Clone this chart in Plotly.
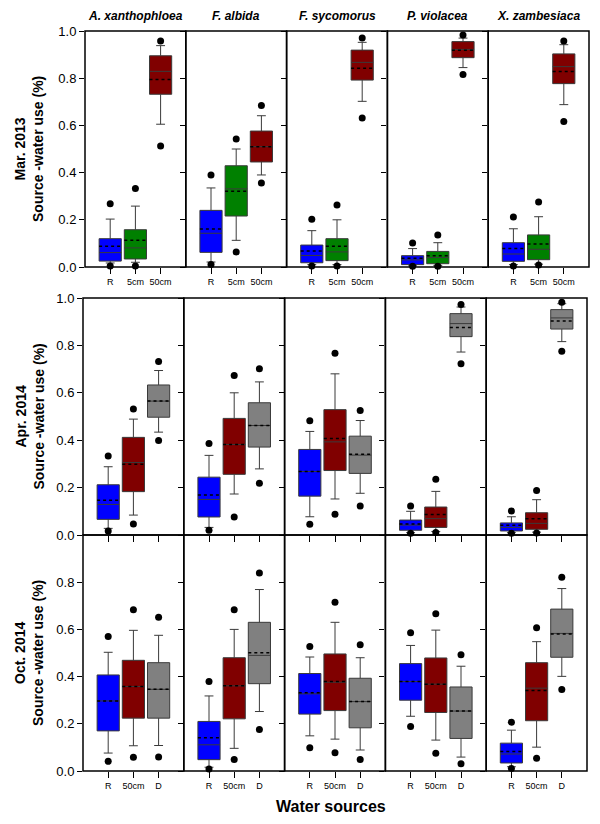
import plotly.graph_objects as go

# ---------------- data ----------------
SPECIES = ["A. xanthophloea", "F. albida", "F. sycomorus", "P. violacea", "X. zambesiaca"]
PERIODS = ["Mar. 2013", "Apr. 2014", "Oct. 2014"]
SOURCES = [["R", "5cm", "50cm"], ["R", "50cm", "D"], ["R", "50cm", "D"]]
SHOW_XLABELS = [True, False, True]
Y_TICKS = [[0, 0.2, 0.4, 0.6, 0.8, 1.0], [0, 0.2, 0.4, 0.6, 0.8, 1.0], [0, 0.2, 0.4, 0.6, 0.8]]

BLUE, GREEN, DRED, GRAY = "#0000FF", "#008000", "#800000", "#808080"
COLORS = [[BLUE, GREEN, DRED], [BLUE, DRED, GRAY], [BLUE, DRED, GRAY]]

# Mar. 2013  (rows = species, cols = sources)
mar13_q1 = [[0.025, 0.034, 0.732], [0.062, 0.216, 0.445], [0.018, 0.027, 0.792], [0.010, 0.014, 0.887], [0.024, 0.031, 0.777]]
mar13_med = [[0.061, 0.081, 0.829], [0.143, 0.331, 0.510], [0.049, 0.064, 0.867], [0.030, 0.040, 0.922], [0.055, 0.075, 0.849]]
mar13_q3 = [[0.120, 0.158, 0.895], [0.240, 0.429, 0.576], [0.093, 0.120, 0.919], [0.048, 0.066, 0.955], [0.103, 0.136, 0.903]]
mar13_lo = [[0.017, 0.020, 0.605], [0.021, 0.113, 0.390], [0.010, 0.010, 0.702], [0.005, 0.007, 0.845], [0.010, 0.012, 0.688]]
mar13_hi = [[0.203, 0.258, 0.938], [0.335, 0.500, 0.641], [0.154, 0.200, 0.952], [0.078, 0.103, 0.970], [0.162, 0.213, 0.942]]
mar13_mean = [[0.088, 0.113, 0.795], [0.161, 0.321, 0.510], [0.068, 0.088, 0.842], [0.037, 0.048, 0.918], [0.078, 0.097, 0.828]]
mar13_out_lo = [[0.004, 0.004, 0.513], [0.011, 0.064, 0.356], [0.004, 0.004, 0.631], [0.003, 0.003, 0.816], [0.004, 0.008, 0.617]]
mar13_out_hi = [[0.268, 0.333, 0.958], [0.390, 0.542, 0.684], [0.202, 0.263, 0.970], [0.102, 0.136, 0.983], [0.212, 0.275, 0.958]]

# Apr. 2014
apr14_q1 = [[0.066, 0.183, 0.497], [0.076, 0.256, 0.371], [0.164, 0.272, 0.260], [0.020, 0.032, 0.837], [0.017, 0.024, 0.869]]
apr14_med = [[0.129, 0.306, 0.565], [0.150, 0.382, 0.462], [0.268, 0.393, 0.337], [0.042, 0.069, 0.892], [0.032, 0.049, 0.916]]
apr14_q3 = [[0.212, 0.412, 0.633], [0.244, 0.492, 0.558], [0.361, 0.529, 0.417], [0.063, 0.118, 0.934], [0.051, 0.094, 0.951]]
apr14_lo = [[0.028, 0.084, 0.434], [0.032, 0.173, 0.279], [0.077, 0.152, 0.176], [0.010, 0.015, 0.772], [0.010, 0.012, 0.816]]
apr14_hi = [[0.288, 0.489, 0.694], [0.336, 0.600, 0.646], [0.437, 0.680, 0.483], [0.100, 0.184, 0.962], [0.077, 0.149, 0.976]]
apr14_mean = [[0.147, 0.299, 0.565], [0.169, 0.382, 0.462], [0.268, 0.407, 0.341], [0.046, 0.086, 0.876], [0.041, 0.069, 0.903]]
apr14_out_lo = [[0.017, 0.046, 0.399], [0.020, 0.076, 0.218], [0.045, 0.088, 0.122], [0.007, 0.011, 0.723], [0.007, 0.008, 0.775]]
apr14_out_hi = [[0.333, 0.532, 0.732], [0.386, 0.673, 0.701], [0.482, 0.767, 0.525], [0.122, 0.235, 0.973], [0.101, 0.188, 0.982]]

# Oct. 2014
oct14_q1 = [[0.170, 0.224, 0.224], [0.048, 0.221, 0.370], [0.241, 0.256, 0.183], [0.300, 0.248, 0.138], [0.034, 0.213, 0.482]]
oct14_med = [[0.297, 0.358, 0.346], [0.111, 0.361, 0.490], [0.327, 0.376, 0.294], [0.379, 0.368, 0.254], [0.072, 0.351, 0.583]]
oct14_q3 = [[0.407, 0.469, 0.459], [0.210, 0.480, 0.630], [0.413, 0.496, 0.393], [0.455, 0.479, 0.356], [0.118, 0.459, 0.686]]
oct14_lo = [[0.076, 0.107, 0.108], [0.016, 0.096, 0.252], [0.149, 0.135, 0.089], [0.232, 0.131, 0.059], [0.018, 0.101, 0.401]]
oct14_hi = [[0.503, 0.596, 0.575], [0.318, 0.600, 0.769], [0.483, 0.630, 0.480], [0.532, 0.597, 0.444], [0.173, 0.548, 0.773]]
oct14_mean = [[0.297, 0.358, 0.346], [0.141, 0.361, 0.501], [0.332, 0.379, 0.294], [0.379, 0.368, 0.254], [0.083, 0.341, 0.580]]
oct14_out_lo = [[0.041, 0.058, 0.059], [0.008, 0.049, 0.176], [0.099, 0.077, 0.049], [0.189, 0.075, 0.031], [0.011, 0.054, 0.345]]
oct14_out_hi = [[0.570, 0.683, 0.652], [0.379, 0.683, 0.839], [0.528, 0.715, 0.535], [0.586, 0.666, 0.493], [0.207, 0.607, 0.821]]

STATS = [
    (mar13_q1, mar13_med, mar13_q3, mar13_lo, mar13_hi, mar13_mean, mar13_out_lo, mar13_out_hi),
    (apr14_q1, apr14_med, apr14_q3, apr14_lo, apr14_hi, apr14_mean, apr14_out_lo, apr14_out_hi),
    (oct14_q1, oct14_med, oct14_q3, oct14_lo, oct14_hi, oct14_mean, oct14_out_lo, oct14_out_hi),
]

# ---------------- layout geometry (screen pixels) ----------------
OFF = 8                       # default page margin around the plot div
W, H = 600 - OFF, 824 - OFF   # figure size so that it ends at the window edge
ROW_LEFT = [85, 83, 83]
COL_W = 100.8
ROW_TOP = [31, 298, 535]
ROW_BOT = [267, 535, 771]
BOX_W = 0.88
FONT = "Arial, Liberation Sans, sans-serif"


def px_x(v):
    return (v - OFF) / W


def px_y(v):
    return 1 - (v - OFF) / H


fig = go.Figure()
layout = dict(
    width=W, height=H, margin=dict(l=0, r=0, t=0, b=0, pad=0, autoexpand=False),
    paper_bgcolor="white", plot_bgcolor="rgba(0,0,0,0)", showlegend=False,
    font=dict(family=FONT, color="black"),
)
annotations = []
shapes = []

for r in range(3):
    q1s, meds, q3s, los, his, means, olo, ohi = STATS[r]
    for c in range(5):
        k = r * 5 + c + 1
        xa = "x" if k == 1 else f"x{k}"
        ya = "y" if k == 1 else f"y{k}"
        x0 = px_x(ROW_LEFT[r] + c * COL_W)
        x1 = px_x(ROW_LEFT[r] + (c + 1) * COL_W)
        y0 = px_y(ROW_BOT[r])
        y1 = px_y(ROW_TOP[r])
        pos = list(range(len(SOURCES[r])))
        for i in pos:
            fig.add_trace(go.Box(
                x=[i], q1=[q1s[c][i]], median=[meds[c][i]], q3=[q3s[c][i]],
                lowerfence=[los[c][i]], upperfence=[his[c][i]],
                width=BOX_W, whiskerwidth=0.4, boxpoints=False,
                fillcolor=COLORS[r][i], line=dict(color="#3a3a3a", width=1),
                xaxis=xa, yaxis=ya, hoverinfo="skip",
            ))
        # mean (dotted)
        mx, my = [], []
        for i in pos:
            mx += [i - BOX_W / 2, i + BOX_W / 2, None]
            my += [means[c][i], means[c][i], None]
        fig.add_trace(go.Scatter(x=mx, y=my, mode="lines",
                                 line=dict(color="black", width=1.5, dash="dot"),
                                 xaxis=xa, yaxis=ya, hoverinfo="skip"))
        # outlying points
        ox, oy = [], []
        for i in pos:
            ox += [i, i]
            oy += [olo[c][i], ohi[c][i]]
        fig.add_trace(go.Scatter(x=ox, y=oy, mode="markers",
                                 marker=dict(color="black", size=7),
                                 xaxis=xa, yaxis=ya, hoverinfo="skip", cliponaxis=False))

        layout["xaxis" if k == 1 else f"xaxis{k}"] = dict(
            domain=[x0, x1], anchor=ya, range=[-1, 3], automargin=False,
            tickvals=pos, ticktext=SOURCES[r], showticklabels=SHOW_XLABELS[r],
            ticks="outside", ticklen=6, tickwidth=1, tickcolor="black",
            tickfont=dict(size=9, family=FONT),
            showline=False, showgrid=False, zeroline=False, fixedrange=True,
        )
        layout["yaxis" if k == 1 else f"yaxis{k}"] = dict(
            domain=[y0, y1], anchor=xa, range=[0, 1], automargin=False,
            tickvals=Y_TICKS[r], ticktext=[f"{v:.1f}" for v in Y_TICKS[r]],
            showticklabels=(c == 0),
            ticks="outside", ticklen=5, tickwidth=1, tickcolor="black",
            tickfont=dict(size=13, family=FONT),
            showline=False, showgrid=False, zeroline=False, fixedrange=True,
        )
        shapes.append(dict(type="rect", xref=f"{xa} domain", yref=f"{ya} domain",
                           x0=0, x1=1, y0=0, y1=1, line=dict(color="black", width=1.5),
                           fillcolor="rgba(0,0,0,0)", layer="above"))
        if r == 0:
            annotations.append(dict(
                text=f"<b><i>{SPECIES[c]}</i></b>", x=(x0 + x1) / 2, y=1.0,
                xref="paper", yref="paper", showarrow=False, borderpad=0,
                font=dict(size=12, family=FONT), xanchor="center", yanchor="top",
            ))
    annotations.append(dict(
        text=f"<b>{PERIODS[r]}<br>Source -water use (%)</b>",
        x=px_x(29), y=px_y((ROW_TOP[r] + ROW_BOT[r]) / 2),
        xref="paper", yref="paper", showarrow=False, textangle=-90,
        font=dict(size=14, family=FONT), xanchor="center", yanchor="middle",
    ))

annotations.append(dict(
    text="<b>Water sources</b>", x=px_x(331), y=px_y(806),
    xref="paper", yref="paper", showarrow=False,
    font=dict(size=16, family=FONT), xanchor="center", yanchor="middle",
))
layout["annotations"] = annotations
layout["shapes"] = shapes
fig.update_layout(**layout)
fig.write_html("out.html")
